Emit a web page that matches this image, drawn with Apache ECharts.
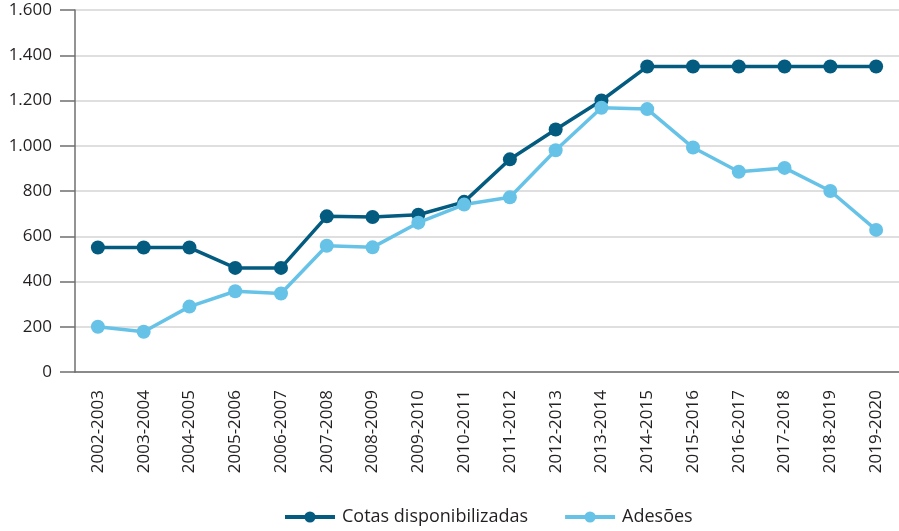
<!DOCTYPE html>
<html>
<head>
<meta charset="utf-8">
<script src="https://cdn.jsdelivr.net/npm/echarts@6/dist/echarts.min.js"></script>
<style>
  html, body { margin: 0; padding: 0; background: #fff; }
  #chart { width: 899px; height: 531px; }
</style>
</head>
<body>
<div id="chart"></div>
<script>
// dados do gráfico
const categorias = [
  '2002-2003', '2003-2004', '2004-2005', '2005-2006', '2006-2007', '2007-2008',
  '2008-2009', '2009-2010', '2010-2011', '2011-2012', '2012-2013', '2013-2014',
  '2014-2015', '2015-2016', '2016-2017', '2017-2018', '2018-2019', '2019-2020'
]
const cotas = [550, 550, 550, 460, 460, 688, 685, 695, 752, 940, 1072, 1200, 1350, 1350, 1350, 1350, 1350, 1350]
const adesoes = [200, 178, 289, 357, 347, 558, 551, 660, 740, 772, 980, 1168, 1162, 992, 885, 902, 800, 628]
const yTicks = [0, 200, 400, 600, 800, 1000, 1200, 1400, 1600]

const COR_ESCURA = '#035b80'
const COR_CLARA = '#66c3e7'

const chart = echarts.init(document.getElementById('chart'))

// separador de milhar com ponto
const formatar = v => String(v).replace(/\B(?=(\d{3})+(?!\d))/g, '.')

const serie = (name, data, color) => ({
  name,
  type: 'line',
  data,
  symbol: 'circle',
  symbolSize: 14,
  itemStyle: { color },
  lineStyle: { color, width: 3.5 },
  emphasis: { disabled: true }
})

chart.setOption({
  animation: false,
  textStyle: { fontFamily: 'Open Sans, Noto Sans, sans-serif' },
  grid: { left: 75, right: 0, top: 10, bottom: 159 },
  legend: {
    bottom: 0,
    left: 278,
    itemWidth: 50,
    itemHeight: 14,
    itemGap: 35,
    lineStyle: { width: 4 },
    textStyle: { fontSize: 18, color: '#231f20', padding: [0, 0, 0, 2] },
    data: ['Cotas disponibilizadas', 'Adesões']
  },
  xAxis: {
    type: 'category',
    data: categorias,
    boundaryGap: true,
    axisLine: { lineStyle: { color: '#6f6f6f', width: 1.5 } },
    axisTick: { length: 15, lineStyle: { color: '#6f6f6f', width: 1.5 } },
    axisLabel: {
      rotate: 90,
      interval: 0,
      margin: 18,
      fontSize: 17,
      color: '#231f20'
    }
  },
  yAxis: {
    type: 'value',
    min: yTicks[0],
    max: yTicks[yTicks.length - 1],
    interval: 200,
    axisLine: { show: true, lineStyle: { color: '#6f6f6f', width: 1.5 } },
    axisTick: { show: true, length: 15, lineStyle: { color: '#6f6f6f', width: 1.5 } },
    splitLine: { lineStyle: { color: '#d4d4d4', width: 1.5 } },
    axisLabel: {
      fontSize: 17,
      color: '#231f20',
      margin: 23,
      formatter: formatar
    }
  },
  series: [
    serie('Cotas disponibilizadas', cotas, COR_ESCURA),
    serie('Adesões', adesoes, COR_CLARA)
  ]
})
</script>
</body>
</html>
